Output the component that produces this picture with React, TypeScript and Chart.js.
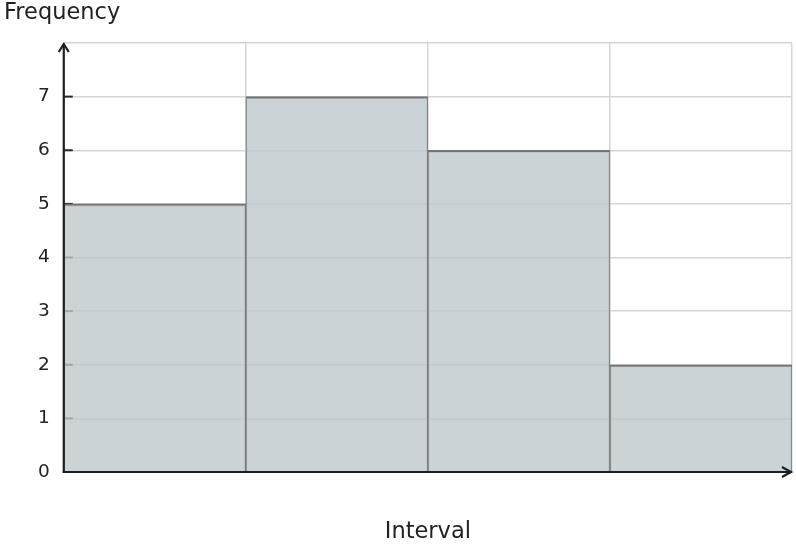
import React, { useEffect, useRef } from 'react';
import { Chart, registerables } from 'chart.js';

Chart.register(...registerables);

const categories = ['A', 'B', 'C', 'D'];
const frequencies = [5, 7, 6, 2];
const yTickValues = [0, 1, 2, 3, 4, 5, 6, 7];
const yMax = 8;
const yTitle = 'Frequency';
const xTitle = 'Interval';

const FONT = "'DejaVu Sans', sans-serif";

const axisPlugin = {
  id: 'axisDecor',
  beforeDatasetsDraw(chart: any) {
    const { ctx, chartArea, scales } = chart;
    const y = scales.y;
    ctx.save();
    ctx.strokeStyle = '#2a2a2a';
    ctx.lineWidth = 2;
    yTickValues.forEach((v) => {
      if (v === 0) return;
      const py = y.getPixelForValue(v);
      ctx.beginPath();
      ctx.moveTo(chartArea.left, py);
      ctx.lineTo(chartArea.left + 9, py);
      ctx.stroke();
    });
    ctx.restore();
  },
  afterDraw(chart: any) {
    const { ctx, chartArea } = chart;
    const { left, right, top, bottom } = chartArea;
    ctx.save();
    ctx.strokeStyle = '#1e1e1e';
    ctx.lineWidth = 2.2;
    ctx.lineCap = 'butt';
    ctx.beginPath();
    ctx.moveTo(left, bottom + 1);
    ctx.lineTo(left, top + 1);
    ctx.stroke();
    ctx.beginPath();
    ctx.moveTo(left - 1, bottom);
    ctx.lineTo(right - 1, bottom);
    ctx.stroke();
    // arrows
    ctx.beginPath();
    ctx.moveTo(left - 5, top + 9);
    ctx.lineTo(left, top + 1);
    ctx.lineTo(left + 5, top + 9);
    ctx.stroke();
    ctx.beginPath();
    ctx.moveTo(right - 10, bottom - 5);
    ctx.lineTo(right - 1, bottom);
    ctx.lineTo(right - 10, bottom + 5);
    ctx.stroke();
    // y axis title
    ctx.fillStyle = '#222';
    ctx.font = `22.5px ${FONT}`;
    ctx.textBaseline = 'middle';
    ctx.textAlign = 'left';
    ctx.fillText(yTitle, 4, 13);
    ctx.restore();
  },
};

export default function App() {
  const ref = useRef<HTMLCanvasElement>(null);
  useEffect(() => {
    if (!ref.current) return;
    const chart = new Chart(ref.current, {
      type: 'bar',
      data: {
        labels: categories,
        datasets: [
          {
            data: frequencies,
            backgroundColor: 'rgba(190,200,204,0.8)',
            borderColor: '#747474',
            borderWidth: { top: 2, left: 1, right: 1, bottom: 0 },
            borderSkipped: 'bottom',
            barPercentage: 1,
            categoryPercentage: 1,
          },
        ],
      },
      options: {
        animation: false,
        responsive: false,
        maintainAspectRatio: false,
        layout: { padding: { left: 24, right: 4, top: 43, bottom: 0 } },
        plugins: { legend: { display: false }, tooltip: { enabled: false }, title: { display: false } },
        scales: {
          x: {
            grid: { color: '#d6d6d6', lineWidth: 1.5, drawTicks: false, offset: true },
            border: { display: false },
            ticks: { display: false },
            title: {
              display: true,
              text: xTitle,
              color: '#222',
              font: { family: FONT, size: 22.5 },
              padding: { top: 47, bottom: 2 },
            },
          },
          y: {
            min: 0,
            max: yMax,
            afterBuildTicks: (axis: any) => {
              axis.ticks = [...yTickValues, yMax].map((v) => ({ value: v }));
            },
            grid: { color: '#d6d6d6', lineWidth: 1.5, drawTicks: false },
            border: { display: false },
            ticks: {
              color: '#222',
              padding: 14,
              font: { family: FONT, size: 18.5 },
              callback: (v: any) => (v === yMax ? '' : String(v)),
            },
          },
        },
      },
      plugins: [axisPlugin],
    });
    return () => chart.destroy();
  }, []);
  return (
    <div style={{ position: 'absolute', left: 0, top: 0, width: 796, height: 548, background: '#fff' }}>
      <canvas ref={ref} width={796} height={548} style={{ width: 796, height: 548 }} />
    </div>
  );
}
